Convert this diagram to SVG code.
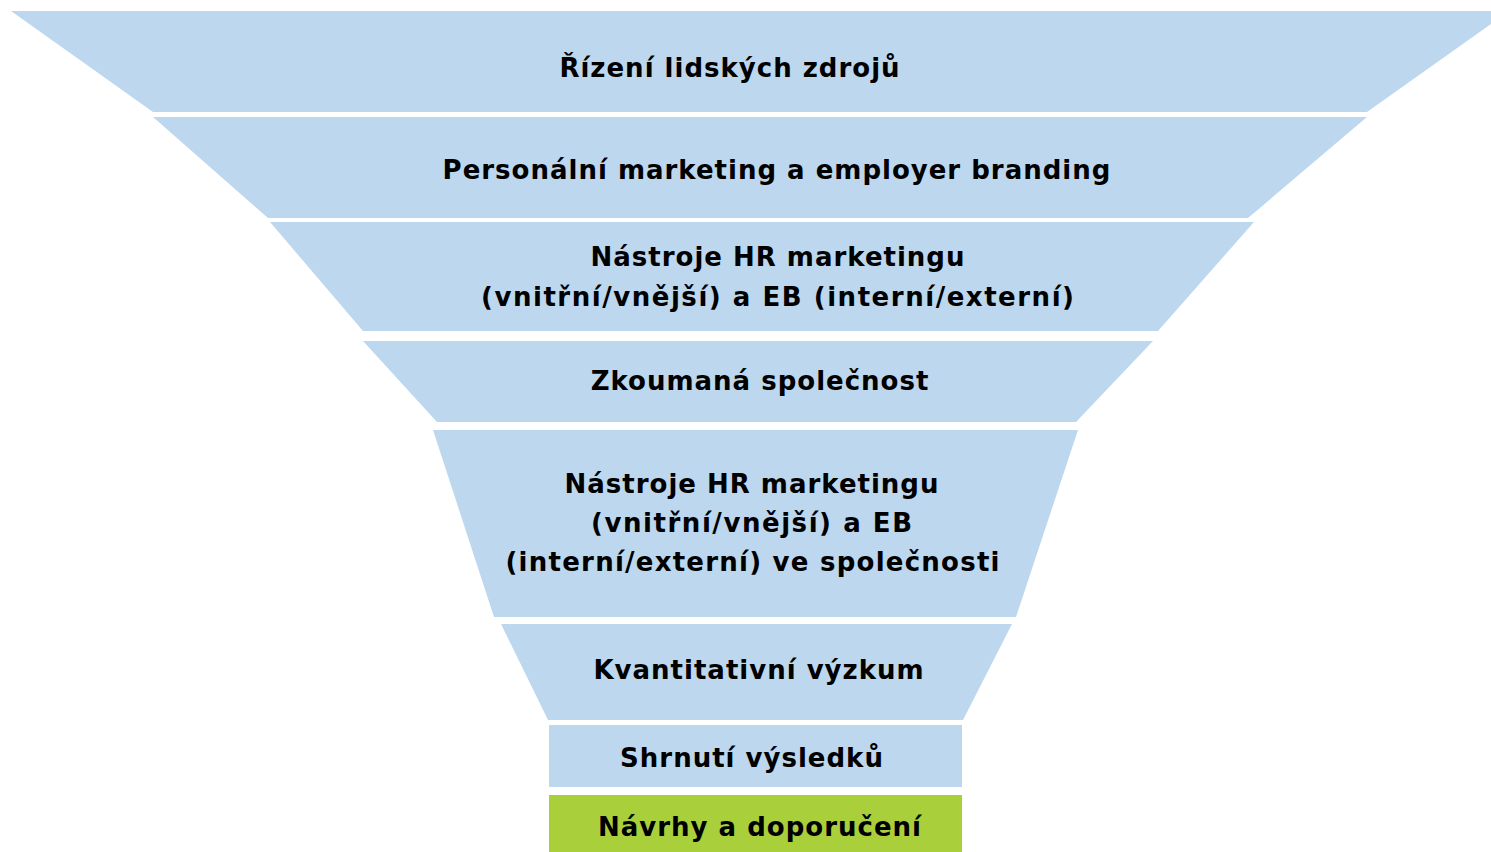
<svg xmlns="http://www.w3.org/2000/svg" width="1491" height="852" viewBox="0 0 1491 852">
<style>
.b{fill:#BDD7EE}
.g{fill:#A9D03A}
.t{font-family:"DejaVu Sans","Verdana",sans-serif;font-weight:bold;font-size:26px;letter-spacing:1px;fill:#000;text-anchor:middle}
</style>
<rect width="1491" height="852" fill="#fff"/>
<g id="n1"><polygon class="b" points="11,11 1491,11 1491,24 1367,112 153,112"/><text class="t" x="730" y="77">Řízení lidských zdrojů</text></g>
<g id="n2"><polygon class="b" points="153,117 1367,117 1248,218 268,218"/><text class="t" x="777" y="179">Personální marketing a employer branding</text></g>
<g id="n3"><polygon class="b" points="270,222 1254,222 1158,331 363,331"/><text class="t" x="778" y="266">Nástroje HR marketingu</text><text class="t" x="778" y="306" textLength="594" lengthAdjust="spacing">(vnitřní/vnější) a EB (interní/externí)</text></g>
<g id="n4"><polygon class="b" points="363,341 1153,341 1076,422 437,422"/><text class="t" x="760" y="390">Zkoumaná společnost</text></g>
<g id="n5"><polygon class="b" points="433,430 1078,430 1016,617 494,617"/><text class="t" x="752" y="493">Nástroje HR marketingu</text><text class="t" x="752" y="532" textLength="322" lengthAdjust="spacing">(vnitřní/vnější) a EB</text><text class="t" x="753" y="571" textLength="495" lengthAdjust="spacing">(interní/externí) ve společnosti</text></g>
<g id="n6"><polygon class="b" points="501,624 1012,624 963,720 548,720"/><text class="t" x="759" y="679">Kvantitativní výzkum</text></g>
<g id="n7"><rect class="b" x="549" y="725" width="413" height="62"/><text class="t" x="752" y="767">Shrnutí výsledků</text></g>
<g id="n8"><rect class="g" x="549" y="795" width="413" height="57"/><text class="t" x="760" y="836">Návrhy a doporučení</text></g>
<g id="connectors"/>
</svg>
